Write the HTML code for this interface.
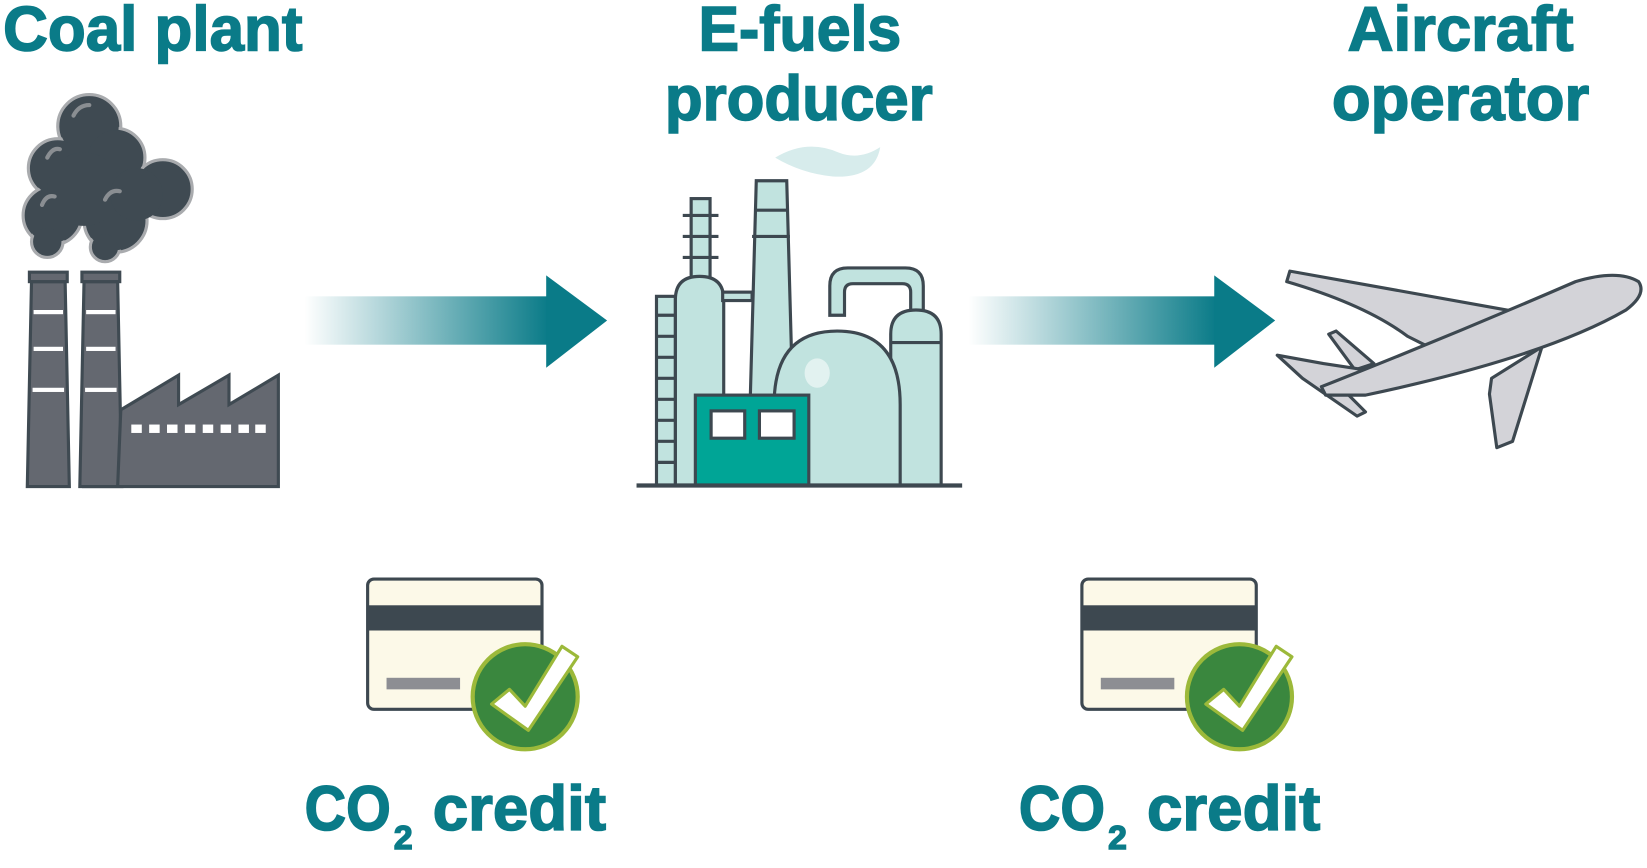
<!DOCTYPE html>
<html><head><meta charset="utf-8"><style>
html,body{margin:0;padding:0;background:#fff;}
svg{display:block;}
text{font-family:"Liberation Sans",sans-serif;font-weight:bold;fill:#0a7b88;}
</style></head><body>
<svg width="1647" height="868" viewBox="0 0 1568 826" preserveAspectRatio="none" xmlns="http://www.w3.org/2000/svg">
<defs>
<linearGradient id="g" x1="0" x2="1" y1="0" y2="0">
<stop offset="0" stop-color="#0a7b88" stop-opacity="0"/>
<stop offset="1" stop-color="#0a7b88"/>
</linearGradient>
</defs>
<!-- titles -->
<g font-size="60" stroke="#0a7b88" stroke-width="1.5">
<text x="3" y="48" textLength="285" lengthAdjust="spacingAndGlyphs">Coal plant</text>
<text x="665" y="48" textLength="193" lengthAdjust="spacingAndGlyphs">E-fuels</text>
<text x="633" y="114" textLength="255" lengthAdjust="spacingAndGlyphs">producer</text>
<text x="1283" y="48" textLength="215" lengthAdjust="spacingAndGlyphs">Aircraft</text>
<text x="1268" y="114" textLength="245" lengthAdjust="spacingAndGlyphs">operator</text>
</g>

<!-- coal plant smoke -->
<g fill="#3f4a52" stroke="#a9abae" stroke-width="3">
<circle cx="85" cy="120" r="30"/><circle cx="110" cy="150" r="28"/><circle cx="55" cy="160" r="28"/>
<circle cx="155" cy="180" r="28"/><circle cx="50" cy="205" r="28"/><circle cx="110" cy="210" r="30"/>
<circle cx="45" cy="230" r="15"/><circle cx="100" cy="235" r="14"/>
</g>
<g fill="#3f4a52">
<circle cx="85" cy="120" r="28"/><circle cx="110" cy="150" r="26"/><circle cx="55" cy="160" r="26"/>
<circle cx="155" cy="180" r="26"/><circle cx="50" cy="205" r="26"/><circle cx="110" cy="210" r="28"/>
<circle cx="80" cy="180" r="35"/><circle cx="130" cy="185" r="25"/><circle cx="45" cy="230" r="13"/><circle cx="100" cy="235" r="12"/>
</g>
<g fill="none" stroke="#8a8e92" stroke-width="4" stroke-linecap="round">
<path d="M70,110 q5,-10 15,-10"/><path d="M45,150 q5,-10 12,-8"/><path d="M100,190 q5,-10 14,-8"/><path d="M40,195 q4,-10 12,-8"/>
</g>
<!-- chimneys -->
<g fill="#646870" stroke="#3f4a52" stroke-width="3">
<polygon points="30,268 62,268 66,463 26,463"/><rect x="28" y="259" width="36" height="9"/>
<polygon points="80,268 112,268 116,463 76,463"/><rect x="78" y="259" width="36" height="9"/>
<polygon points="115,390 170,357 170,385 218,357 218,385 265,357 265,463 78,463 112,463"/>
</g>
<g fill="#fff">
<rect x="32" y="295" width="28" height="4"/><rect x="32" y="330" width="28" height="4"/><rect x="31" y="369" width="30" height="4"/>
<rect x="82" y="295" width="28" height="4"/><rect x="82" y="330" width="28" height="4"/><rect x="81" y="369" width="30" height="4"/>
<rect x="125" y="404" width="10" height="8"/><rect x="142" y="404" width="10" height="8"/><rect x="159" y="404" width="10" height="8"/><rect x="176" y="404" width="10" height="8"/><rect x="193" y="404" width="10" height="8"/><rect x="210" y="404" width="10" height="8"/><rect x="227" y="404" width="10" height="8"/><rect x="243" y="404" width="10" height="8"/>
</g>

<!-- arrows -->
<rect x="290" y="282" width="232" height="46" fill="url(#g)"/>
<polygon points="520,262 578,305 520,350" fill="#0a7b88"/>
<rect x="922" y="282" width="236" height="46" fill="url(#g)"/>
<polygon points="1156,262 1214,305 1156,350" fill="#0a7b88"/>

<!-- refinery -->
<g fill="#c1e3df" stroke="#3d4850" stroke-width="3">
<path d="M738,150 q30,-18 60,-5 q20,8 40,-5 q-5,30 -45,28 q-30,-3 -55,-18z" fill="#d7ecec" stroke="none"/>
<rect x="625" y="282" width="18" height="180"/>
<rect x="658" y="189" width="18" height="75"/>
<path d="M643,462 V285 q0,-22 23,-22 q23,0 23,22 V462z"/>
<rect x="688" y="278" width="28" height="8"/>
<polygon points="720,172 749,172 757,462 712,462"/>
<path d="M790,300 V272 q0,-17 17,-17 h55 q17,0 17,17 V300 h-12 V278 q0,-8 -8,-8 h-47 q-8,0 -8,8 V300z"/>
<path d="M848,462 V318 q0,-23 24,-23 q24,0 24,23 V462z"/>
<path d="M737,462 V385 q0,-70 60,-70 q60,0 60,70 V462z"/>
<rect x="662" y="376" width="108" height="86" fill="#00a596"/>
<rect x="677" y="391" width="32" height="26" fill="#fff"/>
<rect x="723" y="391" width="33" height="26" fill="#fff"/>
</g>
<g stroke="#3d4850" stroke-width="3">
<line x1="625" y1="300" x2="643" y2="300"/><line x1="625" y1="320" x2="643" y2="320"/><line x1="625" y1="340" x2="643" y2="340"/><line x1="625" y1="360" x2="643" y2="360"/><line x1="625" y1="380" x2="643" y2="380"/><line x1="625" y1="400" x2="643" y2="400"/><line x1="625" y1="420" x2="643" y2="420"/><line x1="625" y1="440" x2="643" y2="440"/>
<line x1="650" y1="205" x2="684" y2="205"/><line x1="650" y1="225" x2="684" y2="225"/><line x1="650" y1="245" x2="684" y2="245"/>
<line x1="718" y1="200" x2="750" y2="200"/><line x1="716" y1="225" x2="752" y2="225"/>
<line x1="848" y1="326" x2="896" y2="326"/>
<line x1="606" y1="462" x2="916" y2="462" stroke-width="4"/>
</g>
<ellipse cx="778" cy="355" rx="12" ry="14" fill="#e2f2f0"/>

<!-- airplane -->
<g fill="#d3d3d8" stroke="#3d4850" stroke-width="3" stroke-linejoin="round">
<path d="M1228,258 L1440,296 L1462,300 L1360,330 L1340,320 Q1300,290 1225,268 Z"/>
<path d="M1265,318 L1272,315 L1308,346 L1290,352 Z"/>
<path d="M1420,360 L1468,330 L1440,420 L1425,426 L1418,375 Z"/>
<path d="M1216,338 L1260,346 L1300,352 L1280,372 L1300,392 L1292,396 L1240,360 Z"/>
<path d="M1258,368 Q1380,320 1500,268 Q1540,256 1560,268 Q1568,280 1548,295 Q1470,340 1300,376 L1262,376 Z"/>
</g>

<!-- cards -->
<g>
<rect x="350" y="551" width="166" height="124" rx="6" fill="#fcf9e8" stroke="#3d4850" stroke-width="3"/>
<rect x="350" y="576" width="166" height="24" fill="#3d4850"/>
<rect x="368" y="645" width="70" height="11" fill="#8d8e93"/>
<circle cx="500" cy="663" r="50" fill="#3a873e" stroke="#9cb93a" stroke-width="4"/>
<path d="M468,670 L485,656 L500,672 L535,615 L550,625 L503,695 Z" fill="#fff" stroke="#9cb93a" stroke-width="3" stroke-linejoin="round"/>
</g>
<g>
<rect x="1030" y="551" width="166" height="124" rx="6" fill="#fcf9e8" stroke="#3d4850" stroke-width="3"/>
<rect x="1030" y="576" width="166" height="24" fill="#3d4850"/>
<rect x="1048" y="645" width="70" height="11" fill="#8d8e93"/>
<circle cx="1180" cy="663" r="50" fill="#3a873e" stroke="#9cb93a" stroke-width="4"/>
<path d="M1148,670 L1165,656 L1180,672 L1215,615 L1230,625 L1183,695 Z" fill="#fff" stroke="#9cb93a" stroke-width="3" stroke-linejoin="round"/>
</g>

<g stroke="#0a7b88" stroke-width="1.5">
<text x="290" y="790" font-size="60" textLength="82" lengthAdjust="spacingAndGlyphs">CO</text>
<text x="375" y="808" font-size="32">2</text>
<text x="412" y="790" font-size="60" textLength="165" lengthAdjust="spacingAndGlyphs">credit</text>
<text x="970" y="790" font-size="60" textLength="82" lengthAdjust="spacingAndGlyphs">CO</text>
<text x="1055" y="808" font-size="32">2</text>
<text x="1092" y="790" font-size="60" textLength="165" lengthAdjust="spacingAndGlyphs">credit</text>
</g>
</svg>
</body></html>
